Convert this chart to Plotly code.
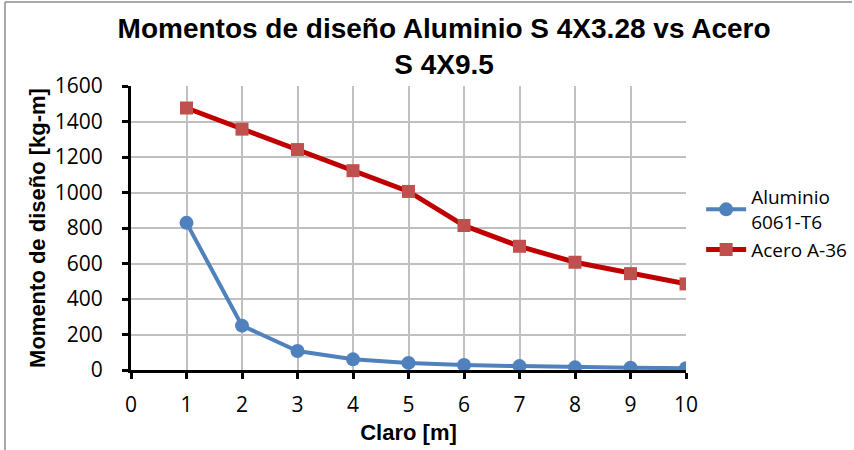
import plotly.graph_objects as go

# Claro [m]
claro = [1, 2, 3, 4, 5, 6, 7, 8, 9, 10]
# Momento de diseño [kg-m]
aluminio = [829, 250, 107, 60, 40, 28, 22, 15, 13, 10]
acero = [1476, 1357, 1242, 1123, 1006, 814, 697, 607, 543, 485]

x_ticks = [0, 1, 2, 3, 4, 5, 6, 7, 8, 9, 10]
y_ticks = [0, 200, 400, 600, 800, 1000, 1200, 1400, 1600]

bold_font = "Liberation Sans, Arial"
tick_font = "Open Sans, Noto Sans, Arial"

fig = go.Figure()

fig.add_trace(go.Scatter(
    x=claro, y=aluminio, mode='lines+markers',
    name='Aluminio<br>6061-T6',
    line=dict(color='#4F81BD', width=4),
    marker=dict(symbol='circle', size=14, color='#4F81BD')
))

fig.add_trace(go.Scatter(
    x=claro, y=acero, mode='lines+markers',
    name='Acero A-36',
    line=dict(color='#C00000', width=5),
    marker=dict(symbol='square', size=13, color='#C0504D')
))

fig.update_layout(
    width=854, height=450,
    margin=dict(l=131, r=168, t=86, b=80, autoexpand=False),
    paper_bgcolor='white', plot_bgcolor='white',
    title=dict(
        text='<b>Momentos de diseño Aluminio S 4X3.28 vs Acero<br>S 4X9.5</b>',
        x=0.52, xanchor='center', xref='container', y=0.916, yanchor='top',
        font=dict(family=bold_font, size=28, color='black')
    ),
    font=dict(family=tick_font, color='black'),
    xaxis=dict(
        range=[0, 10], tickvals=x_ticks, ticktext=[str(v) for v in x_ticks],
        showgrid=True, gridcolor='#C0C0C0', gridwidth=1.5,
        showline=True, linecolor='black', linewidth=3,
        ticks='outside', ticklen=6, tickwidth=3, tickcolor='black',
        tickfont=dict(family=tick_font, size=21),
        ticklabelstandoff=8,
        title=dict(text='<b>Claro [m]</b>', font=dict(family=bold_font, size=22), standoff=8),
        zeroline=False
    ),
    yaxis=dict(
        range=[0, 1600], tickvals=y_ticks, ticktext=[str(v) for v in y_ticks],
        showgrid=True, gridcolor='#C0C0C0', gridwidth=1.5,
        showline=True, linecolor='black', linewidth=3,
        ticks='outside', ticklen=6, tickwidth=3, tickcolor='black',
        tickfont=dict(family=tick_font, size=21),
        ticklabelstandoff=15,
        title=dict(text='<b>Momento de diseño [kg-m]</b>', font=dict(family=bold_font, size=22), standoff=4),
        zeroline=False
    ),
    legend=dict(
        xref='container', yref='container',
        x=0.821, xanchor='left', y=0.503, yanchor='middle',
        font=dict(family=tick_font, size=19),
        bgcolor='rgba(0,0,0,0)', itemwidth=40, tracegroupgap=0
    ),
    shapes=[
        dict(type='line', xref='paper', yref='paper',
             x0=(5 - 131) / 555, x1=(852 - 131) / 555,
             y0=(370 - 2) / 284, y1=(370 - 2) / 284,
             line=dict(color='#8C8C8C', width=1.5)),
        dict(type='line', xref='paper', yref='paper',
             x0=(5 - 131) / 555, x1=(5 - 131) / 555,
             y0=(370 - 2) / 284, y1=(370 - 450) / 284,
             line=dict(color='#8C8C8C', width=1.5)),
    ]
)

fig.write_html("out.html", config={'displayModeBar': False, 'responsive': False},
               post_script="document.body.style.margin='0';document.body.style.overflow='hidden';")
